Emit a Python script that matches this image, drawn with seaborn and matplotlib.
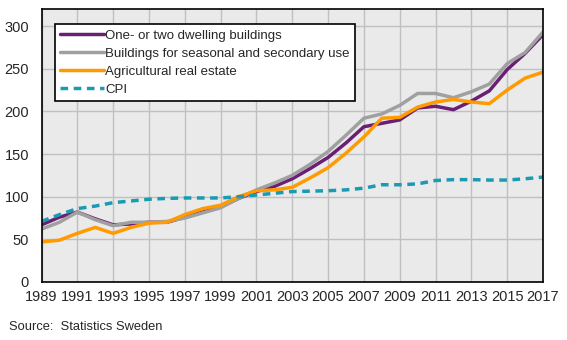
import matplotlib
matplotlib.use("Agg")
import matplotlib.pyplot as plt
import seaborn as sns
import pandas as pd

years = list(range(1989, 2018))
dwelling = [67, 76, 82, 74, 67, 68, 70, 70, 76, 82, 88, 98, 106, 112, 121, 133, 146, 163, 182, 186, 190, 204, 206, 202, 212, 224, 249, 268, 290]
seasonal = [62, 70, 82, 73, 66, 70, 70, 71, 75, 81, 87, 98, 108, 116, 125, 138, 153, 172, 192, 197, 207, 221, 221, 216, 223, 232, 256, 269, 293]
agricultural = [47, 49, 57, 64, 57, 64, 69, 70, 79, 86, 90, 100, 107, 108, 111, 122, 134, 151, 170, 192, 193, 205, 211, 214, 211, 209, 225, 239, 246]
cpi = [71, 79, 86, 89, 93, 95, 97, 98, 98.5, 98.5, 98.5, 100, 102, 104, 106, 106.5, 107, 108, 110, 114, 114, 115, 119, 120, 120, 119.5, 119.5, 121, 123]

names = ["One- or two dwelling buildings", "Buildings for seasonal and secondary use",
         "Agricultural real estate", "CPI"]
colors = ["#6A1E74", "#A0A0A0", "#FF9B00", "#1A9BB2"]

df = pd.DataFrame({"year": years * 4,
                   "value": dwelling + seasonal + agricultural + cpi,
                   "series": sum([[n] * len(years) for n in names], [])})

sns.set_style("whitegrid")
plt.rcParams["font.family"] = ["Liberation Sans", "DejaVu Sans"]

fig = plt.figure(figsize=(5.67, 3.4), dpi=100)
ax = fig.add_axes([0.0732, 0.1706, 0.8845, 0.8029])
ax.set_facecolor("#EAEAEA")

sns.lineplot(data=df, x="year", y="value", hue="series", style="series",
             hue_order=names, style_order=names,
             palette=colors, dashes={names[0]: "", names[1]: "", names[2]: "", names[3]: (2.2, 1.6)},
             linewidth=2.5, ax=ax)

ax.set_xlim(1989, 2017)
ax.set_ylim(0, 320)
ax.set_xticks(list(range(1989, 2018, 2)))
ax.set_yticks(list(range(0, 301, 50)))
ax.set_xlabel("")
ax.set_ylabel("")
ax.grid(True, color="#C0C0C0", linewidth=1)
for s in ax.spines.values():
    s.set_visible(True)
    s.set_color("black")
    s.set_linewidth(1.2)
ax.tick_params(axis="x", direction="out", length=4, width=1, color="black", labelsize=10.5, pad=2)
ax.tick_params(axis="y", length=0, labelsize=10.5, pad=9)

leg = ax.legend(loc="upper left", bbox_to_anchor=(0.027, 0.945), frameon=True, fancybox=False,
                edgecolor="black", framealpha=1, fontsize=9.5, handlelength=3.3,
                handletextpad=0.1, borderpad=0.4, labelspacing=0.45, borderaxespad=0)
leg.get_frame().set_linewidth(1.2)

fig.text(0.016, 0.038, "Source:  Statistics Sweden", fontsize=9.3, ha="left", va="center")

fig.savefig("out.png", dpi=100)
